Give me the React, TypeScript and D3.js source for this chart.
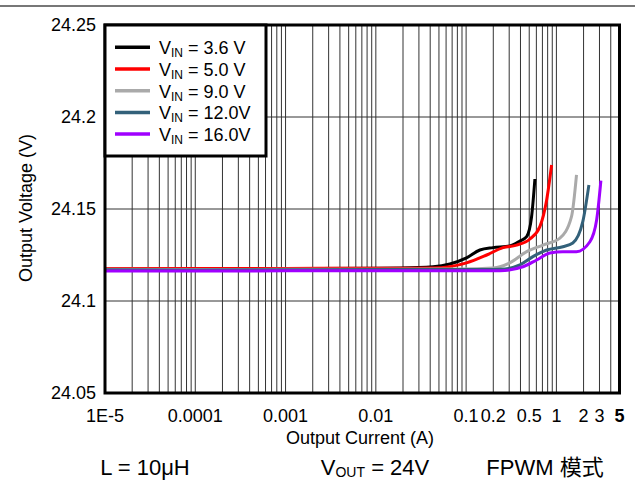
import * as d3 from "d3";

const blackI = [1e-5, 1e-4, 1e-3, 0.01, 0.0185, 0.043, 0.066, 0.101, 0.142, 0.198, 0.305, 0.394, 0.468, 0.531, 0.578];
const blackV = [24.1177, 24.1176, 24.1177, 24.1178, 24.1179, 24.1186, 24.1201, 24.1234, 24.1277, 24.129, 24.1299, 24.1326, 24.135, 24.1458, 24.1663];

const redI = [1e-5, 1e-4, 1e-3, 0.01, 0.043, 0.101, 0.169, 0.256, 0.362, 0.509, 0.656, 0.78, 0.885];
const redV = [24.1177, 24.1176, 24.1177, 24.1178, 24.1179, 24.1207, 24.125, 24.129, 24.1304, 24.1337, 24.1404, 24.1549, 24.1739];

const grayI = [1e-5, 1e-4, 1e-3, 0.01, 0.085, 0.198, 0.305, 0.468, 0.708, 1.094, 1.47, 1.67];
const grayV = [24.1172, 24.1171, 24.1172, 24.1173, 24.1174, 24.1179, 24.1207, 24.1268, 24.1304, 24.1342, 24.1458, 24.1685];

const tealI = [1e-5, 1e-4, 1e-3, 0.01, 0.1, 0.237, 0.394, 0.549, 0.78, 1.18, 1.52, 1.96, 2.29];
const tealV = [24.117, 24.1169, 24.117, 24.1171, 24.1171, 24.1172, 24.1196, 24.1241, 24.1277, 24.1295, 24.1315, 24.1431, 24.163];

const purpleI = [1e-5, 1e-4, 1e-3, 0.01, 0.1, 0.237, 0.426, 0.604, 0.847, 1.18, 1.67, 2.35, 2.79, 3.11];
const purpleV = [24.1163, 24.1163, 24.1164, 24.1165, 24.1165, 24.1165, 24.1186, 24.1223, 24.1261, 24.1268, 24.1268, 24.1322, 24.144, 24.1654];

const seriesNames = ["3.6 V", "5.0 V", "9.0 V", "12.0V", "16.0V"];
const seriesColors = ["#000000", "#ff0000", "#aaaaaa", "#33617a", "#a000ff"];

const xTickValues = [1e-5, 1e-4, 1e-3, 0.01, 0.1, 0.2, 0.5, 1, 2, 3, 5];
const xTickLabels = ["1E-5", "0.0001", "0.001", "0.01", "0.1", "0.2", "0.5", "1", "2", "3", "5"];
const yTickValues = [24.05, 24.1, 24.15, 24.2, 24.25];
const yTickLabels = ["24.05", "24.1", "24.15", "24.2", "24.25"];

const font = "'Liberation Sans', Arial, 'Noto Sans CJK TC', sans-serif";

export default function App() {
  const width = 635;
  const height = 480;
  const left = 105;
  const right = 619.5;
  const top = 25;
  const bottom = 393;

  const x = d3.scaleLog().domain([1e-5, 5]).range([left, right]);
  const y = d3.scaleLinear().domain([24.05, 24.25]).range([bottom, top]);

  const series = [
    [blackI, blackV],
    [redI, redV],
    [grayI, grayV],
    [tealI, tealV],
    [purpleI, purpleV],
  ];

  const line = d3
    .line<[number, number]>()
    .x((d) => x(d[0]))
    .y((d) => y(d[1]))
    .curve(d3.curveMonotoneX);

  // minor grid: 1..9 in every decade up to 5
  const grid: number[] = [];
  for (let e = -5; e <= 0; e++) {
    for (let m = 1; m <= 9; m++) {
      const v = m * Math.pow(10, e);
      if (v > 1e-5 && v < 5) grid.push(v);
    }
  }

  return (
    <svg
      width={width}
      height={height}
      style={{ position: "absolute", left: 0, top: 0 }}
      fontFamily={font}
    >
      <line x1={0} x2={width} y1={6} y2={6} stroke="#777" strokeWidth={2} />

      <g stroke="#333" strokeWidth={1}>
        {grid.map((v, i) => (
          <line key={i} x1={x(v)} x2={x(v)} y1={top} y2={bottom} />
        ))}
        {yTickValues.slice(1, -1).map((v, i) => (
          <line key={"h" + i} x1={left} x2={right} y1={y(v)} y2={y(v)} />
        ))}
      </g>

      <g fill="none" strokeWidth={3} strokeLinejoin="round">
        {series.map(([I, V], i) => (
          <path
            key={i}
            d={line(I.map((c, j) => [c, V[j]] as [number, number])) || ""}
            stroke={seriesColors[i]}
          />
        ))}
      </g>

      <rect
        x={left}
        y={top}
        width={right - left}
        height={bottom - top}
        fill="none"
        stroke="#000"
        strokeWidth={3}
      />

      <g fontSize={18} fill="#000">
        {yTickValues.map((v, i) => (
          <text key={i} x={96} y={y(v)} dy="0.35em" textAnchor="end">
            {yTickLabels[i]}
          </text>
        ))}
        {xTickValues.map((v, i) => (
          <text
            key={i}
            x={x(v)}
            y={422}
            textAnchor="middle"
            fontWeight={xTickLabels[i] === "5" ? "bold" : "normal"}
          >
            {xTickLabels[i]}
          </text>
        ))}
        <text x={360} y={444} textAnchor="middle">
          Output Current (A)
        </text>
        <text
          transform={`translate(32,208) rotate(-90)`}
          textAnchor="middle"
        >
          Output Voltage (V)
        </text>
      </g>

      <g>
        <rect x={105} y={25} width={161} height={131} fill="#fff" stroke="#000" strokeWidth={3} />
        {seriesNames.map((name, i) => {
          const ry = 47.3 + i * 21.7;
          return (
            <g key={i}>
              <line x1={115} x2={150} y1={ry} y2={ry} stroke={seriesColors[i]} strokeWidth={3.5} />
              <text x={159} y={ry + 7} fontSize={18}>
                V
                <tspan fontSize={12} dy={3}>IN</tspan>
                <tspan dy={-3}>{" = " + name}</tspan>
              </text>
            </g>
          );
        })}
      </g>

      <g fontSize={22}>
        <text x={145} y={475} textAnchor="middle">L = 10μH</text>
        <text x={375} y={475} textAnchor="middle">
          V<tspan fontSize={14} dy={2}>OUT</tspan>
          <tspan dy={-2}> = 24V</tspan>
        </text>
        <text x={545} y={475} textAnchor="middle">FPWM 模式</text>
      </g>
    </svg>
  );
}
